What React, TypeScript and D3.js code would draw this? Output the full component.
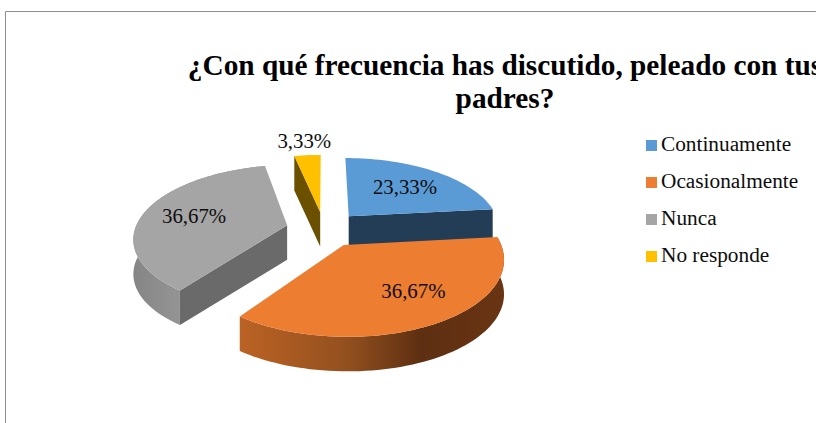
import React from 'react';
import * as d3 from 'd3';

const title = ['¿Con qué frecuencia has discutido, peleado con tus', 'padres?'];
const categories = ['Continuamente', 'Ocasionalmente', 'Nunca', 'No responde'];
const values = [23.33, 36.67, 36.67, 3.33];
const labels = ['23,33%', '36,67%', '36,67%', '3,33%'];
const topColors = ['#5b9bd5', '#ed7d31', '#a5a5a5', '#ffc000'];
const faceColors = ['#243d56', '', '#6a6a6a', '#6b5000'];
const labelRadius = [0.63, 0.67, 0.65, 1.3];
const labelTurn = [0, -0.1, 0, 0];
const drawOrder = [2, 3, 0, 1];

const width = 816;
const height = 423;
const cx = 324;
const cy = 229;
const R = 152;
const tilt = 0.469;
const persp = 0.161;
const explode = 0.25;
const depth = 34.5;

// plane coords -> screen, far side of the pie gets smaller
const project = (X: number, Z: number): [number, number] => {
  const p = 1 / (1 + Z * persp);
  return [cx + R * X * p, cy - R * tilt * Z * p];
};

const slices = d3.pie<number>().sort(null)(values);
const line = d3.line();
const color = d3.scaleOrdinal<number, string>().domain(d3.range(4)).range(topColors);
const legendY = d3.scalePoint<string>().domain(categories).range([145, 256]);

const apexOf = (s: d3.PieArcDatum<number>): [number, number] => {
  const mid = (s.startAngle + s.endAngle) / 2;
  return [explode * Math.sin(mid), explode * Math.cos(mid)];
};

const rimOf = (s: d3.PieArcDatum<number>) => {
  const [ax, az] = apexOf(s);
  const n = Math.ceil((s.endAngle - s.startAngle) * 30);
  return d3.range(n + 1).map((i) => {
    const a = s.startAngle + ((s.endAngle - s.startAngle) * i) / n;
    return project(ax + Math.sin(a), az + Math.cos(a));
  });
};

const drop = (pts: [number, number][]) => pts.map(([x, y]) => [x, y + depth] as [number, number]);

const Slice: React.FC<{ i: number }> = ({ i }) => {
  const s = slices[i];
  const [ax, az] = apexOf(s);
  const apex = project(ax, az);
  const rim = rimOf(s);
  const top = line([apex, ...rim, apex]) + 'Z';
  const wall = line([...rim, ...drop(rim).reverse()]) + 'Z';
  const wallFill = i === 1 ? 'url(#orangeWall)' : 'url(#grayWall)';
  // the cut face turned to the viewer: end edge on blue, start edge on gray and yellow
  const edge = i === 0 ? rim[rim.length - 1] : rim[0];
  const face = line([apex, edge, [edge[0], edge[1] + depth], [apex[0], apex[1] + depth]]) + 'Z';
  return (
    <g>
      {(i === 1 || i === 2) && <path d={wall} fill={wallFill} />}
      {i !== 1 && <path d={face} fill={faceColors[i]} />}
      <path d={top} fill={color(i)} />
    </g>
  );
};

const App: React.FC = () => {
  const serif = '"Liberation Serif", "Times New Roman", serif';
  return (
    <svg
      width={width}
      height={height}
      viewBox={`0 0 ${width} ${height}`}
      style={{ position: 'absolute', left: 0, top: 0, background: '#fff' }}
      fontFamily={serif}
    >
      <defs>
        <linearGradient id="orangeWall" gradientUnits="userSpaceOnUse" x1="241" x2="505" y1="0" y2="0">
          <stop offset="0" stopColor="#bb6224" />
          <stop offset="0.4" stopColor="#93501f" />
          <stop offset="0.68" stopColor="#5e2f12" />
          <stop offset="1" stopColor="#693413" />
        </linearGradient>
        <linearGradient id="grayWall" gradientUnits="userSpaceOnUse" x1="133" x2="185" y1="0" y2="0">
          <stop offset="0" stopColor="#858585" />
          <stop offset="1" stopColor="#969696" />
        </linearGradient>
      </defs>

      <path d={`M5.5 ${height}V11.5H${width}`} fill="none" stroke="#8e8e8e" strokeWidth={1} />

      <text textAnchor="middle" fontWeight="bold" fontSize={29.3} fill="#000">
        {title.map((t, i) => (
          <tspan key={t} x={505} y={75 + i * 33}>
            {t}
          </tspan>
        ))}
      </text>

      {drawOrder.map((i) => (
        <Slice key={i} i={i} />
      ))}

      {slices.map((s, i) => {
        const [ax, az] = apexOf(s);
        const mid = (s.startAngle + s.endAngle) / 2 + labelTurn[i];
        const [x, y] = project(ax + labelRadius[i] * Math.sin(mid), az + labelRadius[i] * Math.cos(mid));
        return (
          <text key={i} x={x} y={y + 7} textAnchor="middle" fontSize={20.8} fill="#0d0d0d">
            {labels[i]}
          </text>
        );
      })}

      {categories.map((c, i) => (
        <g key={c}>
          <rect x={646} y={(legendY(c) as number) - 5} width={11} height={11} fill={color(i)} />
          <text x={661} y={(legendY(c) as number) + 6} fontSize={21.3} fill="#0d0d0d">
            {c}
          </text>
        </g>
      ))}
    </svg>
  );
};

export default App;
